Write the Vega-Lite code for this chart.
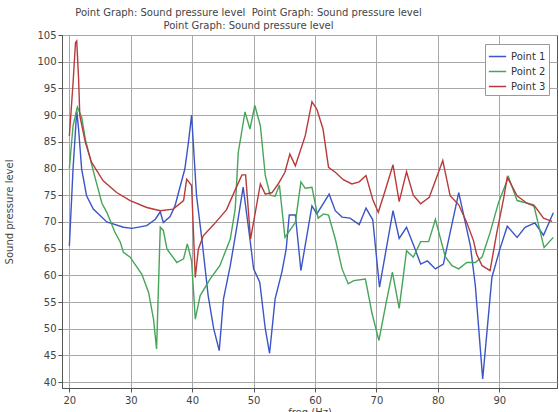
{
  "$schema": "https://vega.github.io/schema/vega-lite/v6.json",
  "width": 495,
  "height": 353,
  "autosize": {"type": "none"},
  "padding": {"left": 62, "top": 35, "right": 2, "bottom": 24},
  "background": "white",
  "title": {
    "text": ["Point Graph: Sound pressure level\u00a0 Point Graph: Sound pressure level", "Point Graph: Sound pressure level"],
    "font": "DejaVu Sans",
    "fontSize": 10,
    "fontWeight": "normal",
    "color": "#444444",
    "anchor": "middle",
    "dx": -61,
    "offset": -1,
    "lineHeight": 13
  },
  "config": {
    "view": {"stroke": "#555555", "strokeWidth": 1},
    "axis": {
      "labelFont": "DejaVu Sans",
      "labelFontSize": 10,
      "labelColor": "#444444",
      "titleFont": "DejaVu Sans",
      "titleFontSize": 10,
      "titleFontWeight": "normal",
      "titleColor": "#444444",
      "gridColor": "#a8a8a8",
      "gridWidth": 1,
      "gridOpacity": 1,
      "domainColor": "#555555",
      "tickColor": "#555555",
      "tickSize": 4
    },
    "legend": {
      "orient": "none",
      "legendX": 423,
      "legendY": 9,
      "strokeColor": "#999999",
      "fillColor": "white",
      "padding": 3,
      "labelFont": "DejaVu Sans",
      "labelFontSize": 10,
      "labelColor": "#333333",
      "symbolType": "stroke",
      "symbolSize": 300,
      "symbolStrokeWidth": 1.5,
      "rowPadding": 0,
      "title": null
    }
  },
  "data": {
    "values": [
      {"s": "Point 1", "f": 20, "v": 65.5}, {"s": "Point 1", "f": 20.6, "v": 80}, {"s": "Point 1", "f": 21.2, "v": 90.8}, {"s": "Point 1", "f": 21.5, "v": 87.4}, {"s": "Point 1", "f": 22, "v": 79.9}, {"s": "Point 1", "f": 22.8, "v": 74.9}, {"s": "Point 1", "f": 23.9, "v": 72.4}, {"s": "Point 1", "f": 26.1, "v": 70.0}, {"s": "Point 1", "f": 28.8, "v": 69.0}, {"s": "Point 1", "f": 30.2, "v": 68.8}, {"s": "Point 1", "f": 32.6, "v": 69.3}, {"s": "Point 1", "f": 34, "v": 70.5}, {"s": "Point 1", "f": 34.8, "v": 71.9}, {"s": "Point 1", "f": 35.3, "v": 69.9}, {"s": "Point 1", "f": 36.4, "v": 71.0}, {"s": "Point 1", "f": 37.2, "v": 73.0}, {"s": "Point 1", "f": 38, "v": 76.5}, {"s": "Point 1", "f": 38.8, "v": 79.9}, {"s": "Point 1", "f": 39.4, "v": 85}, {"s": "Point 1", "f": 39.9, "v": 90.0}, {"s": "Point 1", "f": 40.7, "v": 75}, {"s": "Point 1", "f": 41.6, "v": 66.5}, {"s": "Point 1", "f": 42.6, "v": 56.2}, {"s": "Point 1", "f": 43.5, "v": 50}, {"s": "Point 1", "f": 44.4, "v": 45.9}, {"s": "Point 1", "f": 45.1, "v": 55.6}, {"s": "Point 1", "f": 46.2, "v": 61.8}, {"s": "Point 1", "f": 47.3, "v": 69.3}, {"s": "Point 1", "f": 48.3, "v": 76.5}, {"s": "Point 1", "f": 49.4, "v": 66.8}, {"s": "Point 1", "f": 50, "v": 61.2}, {"s": "Point 1", "f": 51, "v": 58.7}, {"s": "Point 1", "f": 51.9, "v": 50}, {"s": "Point 1", "f": 52.6, "v": 45.4}, {"s": "Point 1", "f": 53.5, "v": 55.6}, {"s": "Point 1", "f": 54.6, "v": 60.6}, {"s": "Point 1", "f": 55.3, "v": 64.9}, {"s": "Point 1", "f": 55.8, "v": 71.3}, {"s": "Point 1", "f": 56.8, "v": 71.3}, {"s": "Point 1", "f": 57.7, "v": 60.9}, {"s": "Point 1", "f": 59.5, "v": 73.0}, {"s": "Point 1", "f": 60.3, "v": 71.5}, {"s": "Point 1", "f": 62.3, "v": 75.2}, {"s": "Point 1", "f": 63.3, "v": 72.1}, {"s": "Point 1", "f": 64.4, "v": 70.9}, {"s": "Point 1", "f": 65.7, "v": 70.7}, {"s": "Point 1", "f": 67.2, "v": 69.5}, {"s": "Point 1", "f": 68.3, "v": 72.6}, {"s": "Point 1", "f": 69.4, "v": 70.4}, {"s": "Point 1", "f": 70.5, "v": 57.8}, {"s": "Point 1", "f": 72.7, "v": 72.1}, {"s": "Point 1", "f": 73.7, "v": 66.9}, {"s": "Point 1", "f": 74.9, "v": 69.0}, {"s": "Point 1", "f": 76.3, "v": 64.9}, {"s": "Point 1", "f": 77.2, "v": 62.1}, {"s": "Point 1", "f": 78.3, "v": 62.7}, {"s": "Point 1", "f": 79.6, "v": 61.2}, {"s": "Point 1", "f": 80.9, "v": 62.1}, {"s": "Point 1", "f": 83.4, "v": 75.5}, {"s": "Point 1", "f": 85.3, "v": 65.5}, {"s": "Point 1", "f": 86.1, "v": 58.1}, {"s": "Point 1", "f": 87.3, "v": 40.6}, {"s": "Point 1", "f": 88.8, "v": 59.6}, {"s": "Point 1", "f": 90.1, "v": 64.9}, {"s": "Point 1", "f": 91.3, "v": 69.2}, {"s": "Point 1", "f": 92.9, "v": 67.1}, {"s": "Point 1", "f": 94.2, "v": 69.0}, {"s": "Point 1", "f": 95.8, "v": 69.8}, {"s": "Point 1", "f": 97.2, "v": 67.5}, {"s": "Point 1", "f": 98.8, "v": 71.7},

      {"s": "Point 2", "f": 20, "v": 80}, {"s": "Point 2", "f": 20.6, "v": 88}, {"s": "Point 2", "f": 21.3, "v": 91.5}, {"s": "Point 2", "f": 22, "v": 89.6}, {"s": "Point 2", "f": 22.6, "v": 85.5}, {"s": "Point 2", "f": 23.9, "v": 79.5}, {"s": "Point 2", "f": 25.3, "v": 73.5}, {"s": "Point 2", "f": 26.1, "v": 71.8}, {"s": "Point 2", "f": 27.4, "v": 68.1}, {"s": "Point 2", "f": 28.3, "v": 66.2}, {"s": "Point 2", "f": 28.8, "v": 64.3}, {"s": "Point 2", "f": 29.9, "v": 63.4}, {"s": "Point 2", "f": 31.8, "v": 60.2}, {"s": "Point 2", "f": 32.9, "v": 56.8}, {"s": "Point 2", "f": 33.7, "v": 51.8}, {"s": "Point 2", "f": 34.2, "v": 46.2}, {"s": "Point 2", "f": 34.8, "v": 69.0}, {"s": "Point 2", "f": 35.3, "v": 68.4}, {"s": "Point 2", "f": 35.9, "v": 64.9}, {"s": "Point 2", "f": 37.5, "v": 62.4}, {"s": "Point 2", "f": 38.6, "v": 63.1}, {"s": "Point 2", "f": 39.2, "v": 65.9}, {"s": "Point 2", "f": 39.9, "v": 62.7}, {"s": "Point 2", "f": 40.5, "v": 51.8}, {"s": "Point 2", "f": 41.3, "v": 56.2}, {"s": "Point 2", "f": 42.9, "v": 59.3}, {"s": "Point 2", "f": 44.5, "v": 61.8}, {"s": "Point 2", "f": 46.2, "v": 66.8}, {"s": "Point 2", "f": 47, "v": 72.4}, {"s": "Point 2", "f": 47.5, "v": 83.0}, {"s": "Point 2", "f": 48.6, "v": 90.6}, {"s": "Point 2", "f": 49.4, "v": 87.4}, {"s": "Point 2", "f": 50.2, "v": 91.8}, {"s": "Point 2", "f": 51.1, "v": 88.0}, {"s": "Point 2", "f": 51.9, "v": 78.7}, {"s": "Point 2", "f": 52.7, "v": 75.0}, {"s": "Point 2", "f": 53.5, "v": 74.8}, {"s": "Point 2", "f": 54.2, "v": 76.9}, {"s": "Point 2", "f": 55.1, "v": 67.1}, {"s": "Point 2", "f": 56.8, "v": 69.9}, {"s": "Point 2", "f": 57.7, "v": 77.5}, {"s": "Point 2", "f": 58.4, "v": 76.3}, {"s": "Point 2", "f": 59.5, "v": 76.5}, {"s": "Point 2", "f": 60.5, "v": 70.7}, {"s": "Point 2", "f": 61.4, "v": 71.5}, {"s": "Point 2", "f": 62.2, "v": 71.3}, {"s": "Point 2", "f": 63.3, "v": 66.8}, {"s": "Point 2", "f": 64.4, "v": 61.2}, {"s": "Point 2", "f": 65.4, "v": 58.4}, {"s": "Point 2", "f": 66.3, "v": 59.0}, {"s": "Point 2", "f": 68.2, "v": 59.3}, {"s": "Point 2", "f": 69.3, "v": 52.8}, {"s": "Point 2", "f": 70.4, "v": 47.8}, {"s": "Point 2", "f": 71.6, "v": 55.0}, {"s": "Point 2", "f": 72.6, "v": 60.6}, {"s": "Point 2", "f": 73.7, "v": 53.8}, {"s": "Point 2", "f": 74.9, "v": 64.6}, {"s": "Point 2", "f": 76, "v": 63.4}, {"s": "Point 2", "f": 77.2, "v": 66.3}, {"s": "Point 2", "f": 78.5, "v": 66.3}, {"s": "Point 2", "f": 79.6, "v": 70.5}, {"s": "Point 2", "f": 81.2, "v": 63.5}, {"s": "Point 2", "f": 82.3, "v": 61.8}, {"s": "Point 2", "f": 83.4, "v": 61.2}, {"s": "Point 2", "f": 84.7, "v": 62.4}, {"s": "Point 2", "f": 86.1, "v": 62.4}, {"s": "Point 2", "f": 87.2, "v": 63.4}, {"s": "Point 2", "f": 88.5, "v": 68.0}, {"s": "Point 2", "f": 89.9, "v": 73.7}, {"s": "Point 2", "f": 91.5, "v": 78.4}, {"s": "Point 2", "f": 92.9, "v": 74.0}, {"s": "Point 2", "f": 95.6, "v": 73.2}, {"s": "Point 2", "f": 97.3, "v": 65.2}, {"s": "Point 2", "f": 98.8, "v": 67.1},

      {"s": "Point 3", "f": 20, "v": 86.1}, {"s": "Point 3", "f": 20.6, "v": 96}, {"s": "Point 3", "f": 21, "v": 103.6}, {"s": "Point 3", "f": 21.2, "v": 103.9}, {"s": "Point 3", "f": 21.5, "v": 96.8}, {"s": "Point 3", "f": 21.7, "v": 89.9}, {"s": "Point 3", "f": 22.6, "v": 84.9}, {"s": "Point 3", "f": 23.6, "v": 81.2}, {"s": "Point 3", "f": 25.5, "v": 77.7}, {"s": "Point 3", "f": 27.7, "v": 75.5}, {"s": "Point 3", "f": 29.9, "v": 74.0}, {"s": "Point 3", "f": 32.6, "v": 72.7}, {"s": "Point 3", "f": 34.8, "v": 72.1}, {"s": "Point 3", "f": 36.9, "v": 72.4}, {"s": "Point 3", "f": 38.6, "v": 74.0}, {"s": "Point 3", "f": 39.1, "v": 78.0}, {"s": "Point 3", "f": 39.9, "v": 76.8}, {"s": "Point 3", "f": 40.5, "v": 59.6}, {"s": "Point 3", "f": 41, "v": 64.9}, {"s": "Point 3", "f": 41.8, "v": 67.4}, {"s": "Point 3", "f": 43.5, "v": 69.5}, {"s": "Point 3", "f": 45.6, "v": 72.3}, {"s": "Point 3", "f": 47, "v": 76.0}, {"s": "Point 3", "f": 48.1, "v": 78.8}, {"s": "Point 3", "f": 48.7, "v": 78.8}, {"s": "Point 3", "f": 49.5, "v": 66.8}, {"s": "Point 3", "f": 51.1, "v": 77.1}, {"s": "Point 3", "f": 51.9, "v": 75.2}, {"s": "Point 3", "f": 53, "v": 75.5}, {"s": "Point 3", "f": 54, "v": 77.1}, {"s": "Point 3", "f": 55.1, "v": 79.3}, {"s": "Point 3", "f": 55.9, "v": 82.7}, {"s": "Point 3", "f": 56.8, "v": 80.5}, {"s": "Point 3", "f": 58.4, "v": 86.1}, {"s": "Point 3", "f": 59.5, "v": 92.5}, {"s": "Point 3", "f": 60.3, "v": 91.1}, {"s": "Point 3", "f": 61.3, "v": 87.4}, {"s": "Point 3", "f": 62.2, "v": 80.2}, {"s": "Point 3", "f": 63.3, "v": 79.3}, {"s": "Point 3", "f": 64.6, "v": 77.9}, {"s": "Point 3", "f": 66, "v": 77.1}, {"s": "Point 3", "f": 67.2, "v": 77.5}, {"s": "Point 3", "f": 68.3, "v": 78.7}, {"s": "Point 3", "f": 69.4, "v": 74.2}, {"s": "Point 3", "f": 70.3, "v": 71.8}, {"s": "Point 3", "f": 71.4, "v": 75.8}, {"s": "Point 3", "f": 72.7, "v": 80.7}, {"s": "Point 3", "f": 73.7, "v": 73.8}, {"s": "Point 3", "f": 74.9, "v": 79.4}, {"s": "Point 3", "f": 76, "v": 75.0}, {"s": "Point 3", "f": 77.2, "v": 73.4}, {"s": "Point 3", "f": 78.6, "v": 74.6}, {"s": "Point 3", "f": 79.6, "v": 77.7}, {"s": "Point 3", "f": 80.8, "v": 81.5}, {"s": "Point 3", "f": 82, "v": 74.9}, {"s": "Point 3", "f": 83.4, "v": 73.2}, {"s": "Point 3", "f": 84.7, "v": 69.9}, {"s": "Point 3", "f": 85.8, "v": 66.5}, {"s": "Point 3", "f": 86.3, "v": 64.0}, {"s": "Point 3", "f": 87.2, "v": 61.8}, {"s": "Point 3", "f": 88.5, "v": 60.9}, {"s": "Point 3", "f": 89.6, "v": 68.0}, {"s": "Point 3", "f": 90.7, "v": 74.3}, {"s": "Point 3", "f": 91.3, "v": 78.4}, {"s": "Point 3", "f": 92.9, "v": 74.9}, {"s": "Point 3", "f": 94.5, "v": 73.5}, {"s": "Point 3", "f": 95.8, "v": 72.9}, {"s": "Point 3", "f": 97.2, "v": 70.7}, {"s": "Point 3", "f": 98.6, "v": 70.1}
    ]
  },
  "mark": {"type": "line", "strokeWidth": 1.4, "clip": true},
  "encoding": {
    "x": {
      "field": "f", "type": "quantitative",
      "scale": {"domain": [18.8, 99.4], "nice": false, "zero": false},
      "axis": {"title": "freq (Hz)", "values": [20, 30, 40, 50, 60, 70, 80, 90], "labelPadding": 3, "titlePadding": 2}
    },
    "y": {
      "field": "v", "type": "quantitative",
      "scale": {"domain": [38.9, 105], "nice": false, "zero": false},
      "axis": {"title": "Sound pressure level", "values": [40, 45, 50, 55, 60, 65, 70, 75, 80, 85, 90, 95, 100, 105], "titlePadding": 22}
    },
    "color": {
      "field": "s", "type": "nominal",
      "scale": {"domain": ["Point 1", "Point 2", "Point 3"], "range": ["#3b55c6", "#46a558", "#b83a3a"]}
    }
  }
}
